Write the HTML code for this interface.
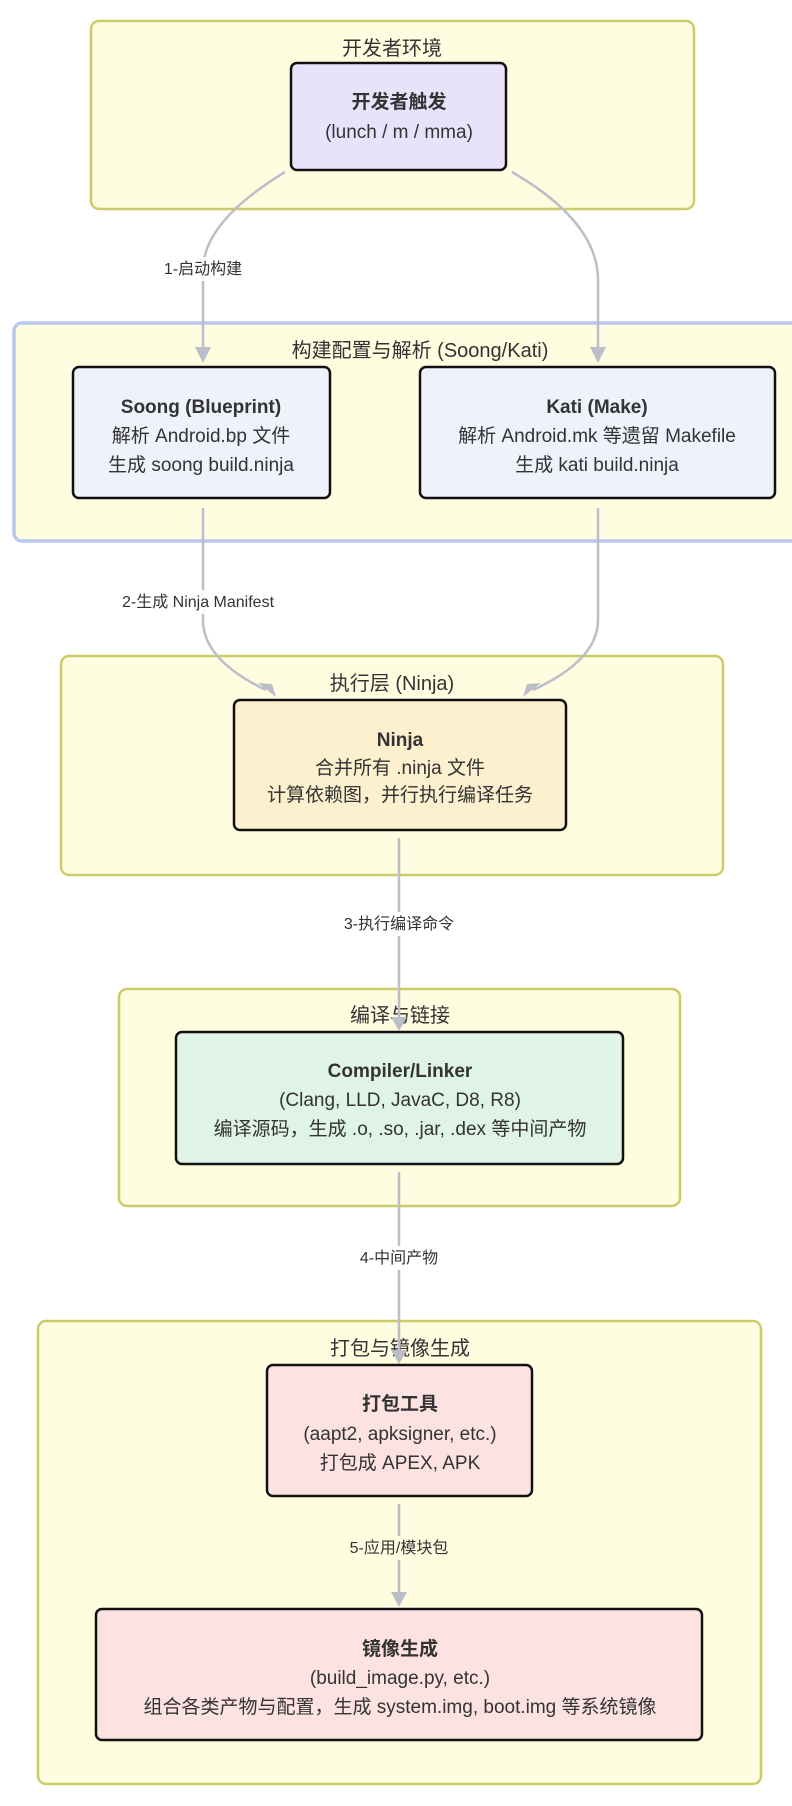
<!DOCTYPE html>
<html><head><meta charset="utf-8"><style>
html,body{margin:0;padding:0;background:#fff;}
svg{display:block;}
text{font-family:"Liberation Sans","Noto Sans CJK SC",sans-serif;fill:#333;text-anchor:middle;}
.t{font-size:20px;}
.n{font-size:19px;}
.b{font-size:19px;font-weight:bold;}
.l{font-size:16px;}
.cl{fill:#fffde0;stroke:#cccc66;stroke-width:2.5;}
.nd{stroke:#111;stroke-width:2.5;}
.e{fill:none;stroke:#bbbec8;stroke-width:2.5;}
.ar{fill:#bbbec8;}
</style></head><body>
<svg width="792" height="1806" viewBox="0 0 792 1806" xmlns="http://www.w3.org/2000/svg">
<rect class="cl" x="91" y="21" width="603" height="188" rx="8"/>
<text class="t" x="392" y="55">开发者环境</text>
<rect x="14" y="323" width="800" height="218" rx="8" fill="#fffde0" stroke="#b8c8f0" stroke-width="3.5"/>
<text class="t" x="420" y="357">构建配置与解析 (Soong/Kati)</text>
<rect class="cl" x="61" y="656" width="662" height="219" rx="8"/>
<text class="t" x="392" y="690">执行层 (Ninja)</text>
<rect class="cl" x="119" y="989" width="561" height="217" rx="8"/>
<text class="t" x="400" y="1022">编译与链接</text>
<rect class="cl" x="38" y="1321" width="723" height="463" rx="8"/>
<text class="t" x="400" y="1355">打包与镜像生成</text>

<path class="e" d="M285 172 Q203 222 203 270 L203 350"/>
<polygon class="ar" points="195,347 211,347 203,363"/>
<path class="e" d="M512 172 Q598 222 598 280 L598 350"/>
<polygon class="ar" points="590,347 606,347 598,363"/>
<rect x="150" y="257" width="106" height="24" fill="#fff" opacity="0.9"/>
<text class="l" x="203" y="274">1-启动构建</text>

<path class="e" d="M203 508 L203 620 Q203 660 266 690"/>
<polygon class="ar" points="258,683 272,684 276,697"/>
<path class="e" d="M598 508 L598 620 Q598 660 533 690"/>
<polygon class="ar" points="527,684 541,683 523,697"/>
<rect x="100" y="590" width="200" height="24" fill="#fff" opacity="0.9"/>
<text class="l" x="198" y="607">2-生成 Ninja Manifest</text>

<path class="e" d="M399 838 L399 1020"/>
<polygon class="ar" points="391,1017 407,1017 399,1031"/>
<rect x="330" y="912" width="140" height="24" fill="#fff"/>
<text class="l" x="399" y="929">3-执行编译命令</text>

<path class="e" d="M399 1172 L399 1353"/>
<polygon class="ar" points="391,1350 407,1350 399,1364"/>
<rect x="345" y="1246" width="108" height="24" fill="#fff"/>
<text class="l" x="399" y="1263">4-中间产物</text>

<path class="e" d="M399 1504 L399 1595"/>
<polygon class="ar" points="391,1592 407,1592 399,1607"/>
<rect x="332" y="1536" width="134" height="24" fill="#fffde0"/>
<text class="l" x="399" y="1553">5-应用/模块包</text>

<rect class="nd" x="291" y="63" width="215" height="107" rx="6" fill="#e8e2fb"/>
<text class="b" x="399" y="108">开发者触发</text>
<text class="n" x="399" y="138">(lunch / m / mma)</text>

<rect class="nd" x="73" y="367" width="257" height="131" rx="6" fill="#eef2fb"/>
<text class="b" x="201" y="413">Soong (Blueprint)</text>
<text class="n" x="201" y="442">解析 Android.bp 文件</text>
<text class="n" x="201" y="471">生成 soong build.ninja</text>

<rect class="nd" x="420" y="367" width="355" height="131" rx="6" fill="#eef2fb"/>
<text class="b" x="597" y="413">Kati (Make)</text>
<text class="n" x="597" y="442">解析 Android.mk 等遗留 Makefile</text>
<text class="n" x="597" y="471">生成 kati build.ninja</text>

<rect class="nd" x="234" y="700" width="332" height="130" rx="6" fill="#fdf0cf"/>
<text class="b" x="400" y="746">Ninja</text>
<text class="n" x="400" y="774">合并所有 .ninja 文件</text>
<text class="n" x="400" y="801">计算依赖图，并行执行编译任务</text>

<rect class="nd" x="176" y="1032" width="447" height="132" rx="6" fill="#dff3e6"/>
<text class="b" x="400" y="1077">Compiler/Linker</text>
<text class="n" x="400" y="1106">(Clang, LLD, JavaC, D8, R8)</text>
<text class="n" x="400" y="1135">编译源码，生成 .o, .so, .jar, .dex 等中间产物</text>

<rect class="nd" x="267" y="1365" width="265" height="131" rx="6" fill="#fde2e2"/>
<text class="b" x="400" y="1410">打包工具</text>
<text class="n" x="400" y="1440">(aapt2, apksigner, etc.)</text>
<text class="n" x="400" y="1469">打包成 APEX, APK</text>

<rect class="nd" x="96" y="1609" width="606" height="131" rx="6" fill="#fde2e2"/>
<text class="b" x="400" y="1655">镜像生成</text>
<text class="n" x="400" y="1684">(build_image.py, etc.)</text>
<text class="n" x="400" y="1713">组合各类产物与配置，生成 system.img, boot.img 等系统镜像</text>
</svg>
</body></html>
